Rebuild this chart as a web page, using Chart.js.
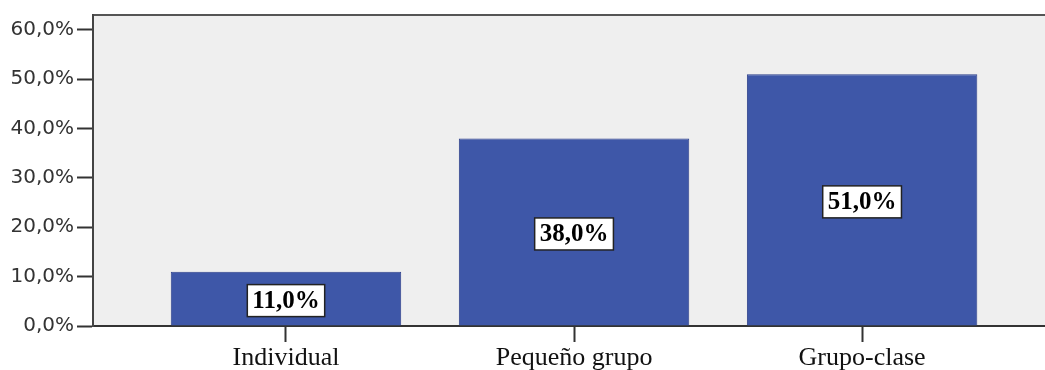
<!DOCTYPE html>
<html>
<head>
<meta charset="utf-8">
<script src="https://cdn.jsdelivr.net/npm/chart.js@4"></script>
<style>
  html, body { margin: 0; padding: 0; background: #fff; }
  #wrap { width: 1045px; height: 370px; }
</style>
</head>
<body>
<div id="wrap"><canvas id="myChart" width="1045" height="370"></canvas></div>
<script>
var categories = ['Individual', 'Pequeño grupo', 'Grupo-clase'];
var percents = [11.0, 38.0, 51.0];
var yTicks = [0, 10, 20, 30, 40, 50, 60];

function fmt(v) { return v.toFixed(1).replace('.', ',') + '%'; }

var points = percents.map(function (v, i) { return { x: i + 1, y: v }; });

// background of plot area + top frame line
var frame = {
  id: 'frame',
  beforeDraw: function (chart) {
    var a = chart.chartArea, ctx = chart.ctx;
    ctx.save();
    ctx.fillStyle = '#efefef';
    ctx.fillRect(a.left, a.top, a.right - a.left, a.bottom - a.top);
    ctx.strokeStyle = '#555';
    ctx.lineWidth = 2;
    ctx.beginPath();
    ctx.moveTo(a.left, a.top);
    ctx.lineTo(a.right, a.top);
    ctx.stroke();
    ctx.restore();
  }
};

// boxed value labels inside bars
var boxLabels = {
  id: 'boxLabels',
  afterDatasetsDraw: function (chart) {
    var ctx = chart.ctx;
    var meta = chart.getDatasetMeta(0);
    ctx.save();
    ctx.font = 'bold 25px "Liberation Serif", "Times New Roman", serif';
    ctx.textAlign = 'center';
    ctx.textBaseline = 'middle';
    meta.data.forEach(function (bar, i) {
      var txt = fmt(percents[i]);
      var w = ctx.measureText(txt).width + 10;
      var h = 32;
      var cx = bar.x, cy = (bar.y + bar.base) / 2 + 2;
      ctx.fillStyle = '#fff';
      ctx.fillRect(cx - w / 2, cy - h / 2, w, h);
      ctx.strokeStyle = '#222';
      ctx.lineWidth = 1.5;
      ctx.strokeRect(cx - w / 2, cy - h / 2, w, h);
      ctx.fillStyle = '#000';
      ctx.fillText(txt, cx, cy + 1);
    });
    ctx.restore();
  }
};

new Chart(document.getElementById('myChart').getContext('2d'), {
  type: 'bar',
  data: {
    datasets: [{
      data: points,
      backgroundColor: '#3e57a8',
      borderColor: '#2c3f8a',
      borderWidth: 1,
      barPercentage: 0.8,
      categoryPercentage: 1
    }]
  },
  options: {
    responsive: false,
    animation: false,
    layout: { padding: { top: 14, right: 0, left: 0, bottom: 0 } },
    plugins: { legend: { display: false }, tooltip: { enabled: false } },
    scales: {
      x: {
        type: 'linear',
        offset: false,
        min: 0.33,
        max: 3.635,
        afterBuildTicks: function (s) { s.ticks = categories.map(function (c, i) { return { value: i + 1 }; }); },
        afterFit: function (s) { s.height = 44; },
        ticks: {
          callback: function (v) { return categories[v - 1]; },
          color: '#111',
          font: { family: '"Liberation Serif", "Times New Roman", serif', size: 26 },
          padding: 1,
          maxRotation: 0
        },
        grid: { offset: false, drawOnChartArea: false, tickLength: 16, color: '#333', tickWidth: 2 },
        border: { color: '#333', width: 2 }
      },
      y: {
        min: 0,
        max: 63,
        afterBuildTicks: function (s) { s.ticks = yTicks.map(function (v) { return { value: v }; }); },
        afterFit: function (s) { s.width = 93; },
        ticks: {
          callback: function (v) { return fmt(v); },
          color: '#333',
          font: { family: '"DejaVu Sans", Verdana, sans-serif', size: 20 },
          padding: 3
        },
        grid: { drawOnChartArea: false, tickLength: 16, color: '#333', tickWidth: 2 },
        border: { color: '#444', width: 2 }
      }
    }
  },
  plugins: [frame, boxLabels]
});
</script>
</body>
</html>
